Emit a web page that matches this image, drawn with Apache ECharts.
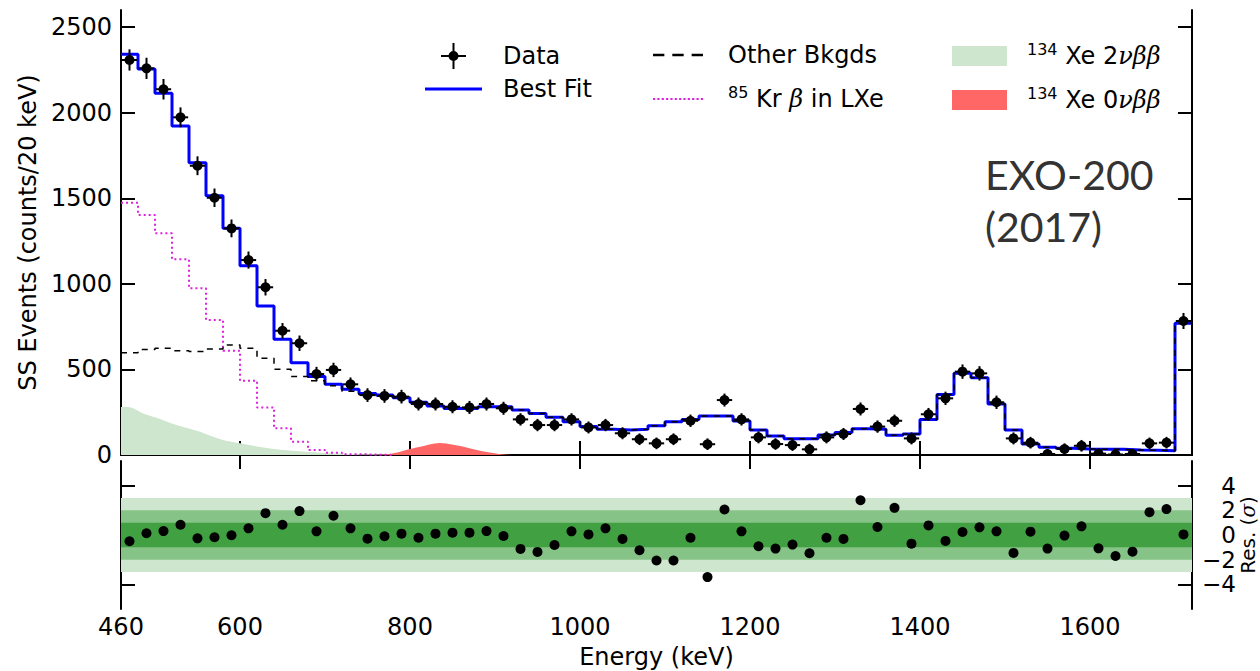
<!DOCTYPE html>
<html><head><meta charset="utf-8">
<script src="https://cdn.jsdelivr.net/npm/echarts@6/dist/echarts.min.js"></script>
<style>html,body{margin:0;padding:0;background:#fff}#c{width:1260px;height:671px}</style>
</head><body><div id="c"></div>
<script>
// ---- data ----
const binCenters = [470,490,510,530,550,570,590,610,630,650,670,690,710,730,750,770,790,810,830,850,870,890,910,930,950,970,990,1010,1030,1050,1070,1090,1110,1130,1150,1170,1190,1210,1230,1250,1270,1290,1310,1330,1350,1370,1390,1410,1430,1450,1470,1490,1510,1530,1550,1570,1590,1610,1630,1650,1670,1690,1710];
const binHalfWidth = 10;
const dataCounts = [2308,2259,2137,1973,1690,1503,1324,1139,980,726,653,473,497,413,350,345,341,298,298,282,278,298,273,208,175,175,208,161,175,127,92,68,92,200,63,321,208,103,64,58,33,103,123,269,166,200,97,238,331,487,477,308,97,72,6,35,54,8,3,6,68,72,783];
const dataErrors = [62,62,60,58,55,54,52,50,48,45,45,42,42,40,40,40,40,38,38,38,38,38,38,36,36,36,36,35,36,35,34,34,34,36,34,38,36,35,34,34,33,35,35,38,36,36,35,37,39,42,42,39,35,34,30,33,34,30,30,30,34,34,47];
const fitLevels = [2341,2255,2113,1922,1708,1515,1325,1106,871,676,539,458,413,384,360,351,335,308,286,272,272,282,282,263,243,220,195,166,150,146,150,171,195,208,228,228,199,146,111,95,95,117,132,154,150,115,123,208,354,477,452,298,146,64,45,39,35,34,33,29,28,25,770];
const otherLevels = [598,617,623,609,604,619,643,623,565,501,458,434,405,372,352,347,333,308,286,272,272,282,282,263,243,220,195,166,150,146,150,171,195,208,228,228,199,146,111,95,95,117,132,154,150,115,123,208,354,477,452,298,146,64,45,39,35,34,33,29,28,25,770];
const krLevels = [1474,1402,1295,1143,974,789,609,434,278,156,78,29,13,5,2,0];
const xe2Energy = [460,470,486,500,525,550,565,580,600,620,643,660,682,700,721,750,780,800,850];
const xe2Counts = [280,279,243,220,175,140,113,88,68,50,33,25,18,12,8,4,2,1,0];
const xe0Energy = [762,772,785,800,812,823,835,851,870,890,905,920];
const xe0Counts = [0,4,15,35,48,62,70,60,40,17,6,0];
const residuals = [-0.51,0.14,0.32,0.83,-0.27,-0.18,-0.02,0.54,1.77,0.83,1.94,0.3,1.56,0.54,-0.3,-0.1,0.11,-0.22,0.11,0.19,0.19,0.32,-0.08,-1.13,-1.37,-0.81,0.3,0.05,0.54,-0.32,-1.24,-2.07,-2.07,-0.22,-3.41,2.07,0.3,-0.91,-1.1,-0.78,-1.48,-0.22,-0.32,2.82,0.65,2.2,-0.7,0.78,-0.48,0.24,0.62,0.3,-1.45,0.27,-1.1,-0.05,0.7,-1.08,-1.7,-1.35,1.85,2.1,0.05];
const xTickValues = [600,800,1000,1200,1400,1600];
const xLabelValues = [460,600,800,1000,1200,1400,1600];
const yTopTicks = [0,500,1000,1500,2000,2500];
const yResTicks = [-4,-2,0,2,4];
const bandSigmas = [3,2,1];
const bandColors = ['#cde6cd','#86c386','#41a041'];

// ---- build ----
const edges = binCenters.map(c => c - binHalfWidth).concat([binCenters[binCenters.length-1] + binHalfWidth]);
function stepData(levels){
  const out = levels.map((v,i)=>[edges[i], v]);
  out.push([edges[levels.length], levels[levels.length-1]]);
  return out;
}
const FONT = 'DejaVu Sans';
const axisLineStyle = {show:true, lineStyle:{color:'#000', width:2}};
function tickCfg(vals){ return {show:true, inside:true, length:14, customValues:vals, lineStyle:{color:'#000', width:2}}; }
const plainFmt = v => String(v);
const minusFmt = v => v < 0 ? '\u2212' + Math.abs(v) : String(v);

const chart = echarts.init(document.getElementById('c'), null, {renderer:'svg', width:1260, height:671});

const xAxes = [
  {gridIndex:0, type:'value', min:460, max:1720, position:'bottom', axisLine:axisLineStyle, axisTick:tickCfg(xTickValues), axisLabel:{show:false}, splitLine:{show:false}},
  {gridIndex:0, type:'value', min:460, max:1720, position:'top', axisLine:axisLineStyle, axisTick:tickCfg(xTickValues), axisLabel:{show:false}, splitLine:{show:false}},
  {gridIndex:1, type:'value', min:460, max:1720, position:'bottom', axisLine:axisLineStyle, axisTick:tickCfg(xTickValues),
    axisLabel:{show:true, customValues:xLabelValues, formatter:plainFmt, margin:6, color:'#000', fontFamily:FONT, fontSize:24},
    splitLine:{show:false}, name:'Energy (keV)', nameLocation:'middle', nameGap:36,
    nameTextStyle:{color:'#000', fontFamily:FONT, fontSize:24}},
  {gridIndex:1, type:'value', min:460, max:1720, position:'top', axisLine:axisLineStyle, axisTick:tickCfg(xTickValues), axisLabel:{show:false}, splitLine:{show:false}}
];
const yAxes = [
  {gridIndex:0, type:'value', min:0, max:2600, position:'left', axisLine:axisLineStyle, axisTick:tickCfg(yTopTicks),
    axisLabel:{show:true, customValues:yTopTicks, formatter:plainFmt, margin:9, color:'#000', fontFamily:FONT, fontSize:24},
    splitLine:{show:false}, name:'SS Events (counts/20 keV)', nameLocation:'middle', nameGap:77,
    nameTextStyle:{color:'#000', fontFamily:FONT, fontSize:24}},
  {gridIndex:0, type:'value', min:0, max:2600, position:'right', axisLine:axisLineStyle, axisTick:tickCfg(yTopTicks.slice(1)), axisLabel:{show:false}, splitLine:{show:false}},
  {gridIndex:1, type:'value', min:-6, max:6, position:'left', axisLine:axisLineStyle, axisTick:tickCfg(yResTicks), axisLabel:{show:false}, splitLine:{show:false}},
  {gridIndex:1, type:'value', min:-6, max:6, position:'right', axisLine:axisLineStyle, axisTick:tickCfg(yResTicks),
    axisLabel:{show:true, customValues:yResTicks, align:'right', margin:44, formatter:minusFmt, color:'#000', fontFamily:FONT, fontSize:23, lineHeight:22},
    splitLine:{show:false}, name:'{a|Res. (}{i|\u03c3}{a|)}', nameLocation:'middle', nameGap:45, nameRotate:90, nameMoveOverlap:false,
    nameTextStyle:{color:'#000', fontFamily:FONT, fontSize:20, lineHeight:22,
      rich:{a:{fontFamily:FONT, fontSize:20, lineHeight:22, color:'#000'}, i:{fontFamily:'DejaVu Serif', fontStyle:'italic', fontSize:20, lineHeight:22, color:'#000'}}}}
];

const legendRich = {
  n:{fontFamily:FONT, fontSize:24, color:'#000', lineHeight:30},
  sup:{fontFamily:FONT, fontSize:16, color:'#000', lineHeight:18, verticalAlign:'top'},
  i:{fontFamily:'DejaVu Serif', fontStyle:'italic', fontSize:24, color:'#000', lineHeight:30}
};
const legendLabels = {
  'Data':'{n|Data}',
  'Best Fit':'{n|Best Fit}',
  'Other Bkgds':'{n|Other Bkgds}',
  'Kr85':'{sup|85}{n| Kr }{i|\u03b2}{n| in LXe}',
  'Xe2nu':'{sup|134}{n| Xe 2}{i|\u03bd\u03b2\u03b2}',
  'Xe0nu':'{sup|134}{n| Xe 0}{i|\u03bd\u03b2\u03b2}'
};
function legendFmt(name){ return legendLabels[name]; }
const dataIcon = 'path://M27.5,0H29.5V26H27.5Z M16,12H41V14H16Z M33.5,13A5,5 0 1,1 23.5,13A5,5 0 1,1 33.5,13Z';
const lineIcon = 'path://M0,0H57V3H0Z';
const dashIcon = 'path://M0,0H10V2H0Z M17,0H27V2H17Z M34,0H44V2H34Z';
let dots = ''; for (let k=0;k<12;k++){ const x0=k*4; dots += 'M'+x0+',0H'+(x0+2)+'V2H'+x0+'Z '; }
const dotIcon = 'path://' + dots;

const option = {
  backgroundColor:'#fff',
  animation:false,
  grid:[
    {left:121, top:10, width:1071, height:445, containLabel:false, outerBoundsMode:'none'},
    {left:121, top:461, width:1071, height:148, containLabel:false, outerBoundsMode:'none'}
  ],
  xAxis:xAxes,
  yAxis:yAxes,
  legend:[
    {left:420, top:38, orient:'vertical', itemWidth:57, itemHeight:26, itemGap:8, selectedMode:false,
      formatter:legendFmt, textStyle:{rich:legendRich, padding:[0,0,0,16]},
      data:[{name:'Data', icon:dataIcon}, {name:'Best Fit', icon:lineIcon}]},
    {left:648, top:38, orient:'vertical', itemWidth:50, itemHeight:20, itemGap:17, selectedMode:false,
      formatter:legendFmt, textStyle:{rich:legendRich, padding:[0,0,0,20]},
      data:[{name:'Other Bkgds', icon:dashIcon}, {name:'Kr85', icon:dotIcon}]},
    {left:947, top:36, orient:'vertical', itemWidth:55, itemHeight:20, itemGap:17, selectedMode:false,
      formatter:legendFmt, textStyle:{rich:legendRich, padding:[0,0,0,15]},
      data:[{name:'Xe2nu', icon:'rect'}, {name:'Xe0nu', icon:'rect'}]}
  ],
  graphic:[
    {type:'text', left:985, top:148, z:10,
      style:{text:'EXO-200\n(2017)', font:'41px Lato', fill:'#333', lineHeight:52}}
  ],
  series:[
    {name:'Xe2nu', type:'line', xAxisIndex:0, yAxisIndex:0, smooth:0.3, symbol:'none', z:1,
      data:xe2Energy.map((e,i)=>[e, xe2Counts[i]]), color:'#cde6cd',
      itemStyle:{color:'#cde6cd'}, lineStyle:{width:0, color:'#cde6cd'}, areaStyle:{color:'#cde6cd', opacity:1}},
    {name:'Xe0nu', type:'line', xAxisIndex:0, yAxisIndex:0, smooth:0.3, symbol:'none', z:1,
      data:xe0Energy.map((e,i)=>[e, xe0Counts[i]]), color:'#ff6666',
      itemStyle:{color:'#ff6666'}, lineStyle:{width:0, color:'#ff6666'}, areaStyle:{color:'#ff6666', opacity:1}},
    {name:'Kr85', type:'line', xAxisIndex:0, yAxisIndex:0, step:'end', symbol:'none', z:2,
      data:stepData(krLevels), color:'#dd22dd', itemStyle:{color:'#dd22dd'},
      lineStyle:{color:'#dd22dd', width:2, type:[2,3]}},
    {name:'Best Fit', type:'line', xAxisIndex:0, yAxisIndex:0, step:'end', symbol:'none', z:3,
      data:stepData(fitLevels), color:'#0000ff', itemStyle:{color:'#0000ff'},
      lineStyle:{color:'#0000ff', width:3}},
    {name:'Other Bkgds', type:'line', xAxisIndex:0, yAxisIndex:0, step:'end', symbol:'none', z:4,
      data:stepData(otherLevels), color:'#000', itemStyle:{color:'#000'},
      lineStyle:{color:'#000', width:1.5, type:[6,6]}},
    {name:'Data', type:'custom', xAxisIndex:0, yAxisIndex:0, z:5, clip:true, color:'#000', itemStyle:{color:'#000'},
      data:binCenters.map((e,i)=>[e, dataCounts[i], dataErrors[i]]),
      renderItem:function(params, api){
        const x = api.value(0), y = api.value(1), err = api.value(2);
        const c = api.coord([x, y]);
        const t = api.coord([x, y + err]);
        const b = api.coord([x, Math.max(y - err, 0)]);
        const l = api.coord([x - 9, y]);
        const r = api.coord([x + 9, y]);
        return {type:'group', children:[
          {type:'line', shape:{x1:c[0], y1:t[1], x2:c[0], y2:b[1]}, style:{stroke:'#000', lineWidth:2}},
          {type:'line', shape:{x1:l[0], y1:c[1], x2:r[0], y2:c[1]}, style:{stroke:'#000', lineWidth:2}},
          {type:'circle', shape:{cx:c[0], cy:c[1], r:5}, style:{fill:'#000'}}
        ]};
      }},
    {name:'bands', type:'line', xAxisIndex:2, yAxisIndex:2, data:[], z:1, silent:true,
      markArea:{silent:true, data:bandSigmas.map((s,i)=>[{yAxis:-s, itemStyle:{color:bandColors[i], opacity:1}}, {yAxis:s}])}},
    {name:'Residual', type:'scatter', xAxisIndex:2, yAxisIndex:2, z:5, symbolSize:10,
      itemStyle:{color:'#000', opacity:1},
      data:binCenters.map((e,i)=>[e, residuals[i]])}
  ]
};
chart.setOption(option);
</script></body></html>
